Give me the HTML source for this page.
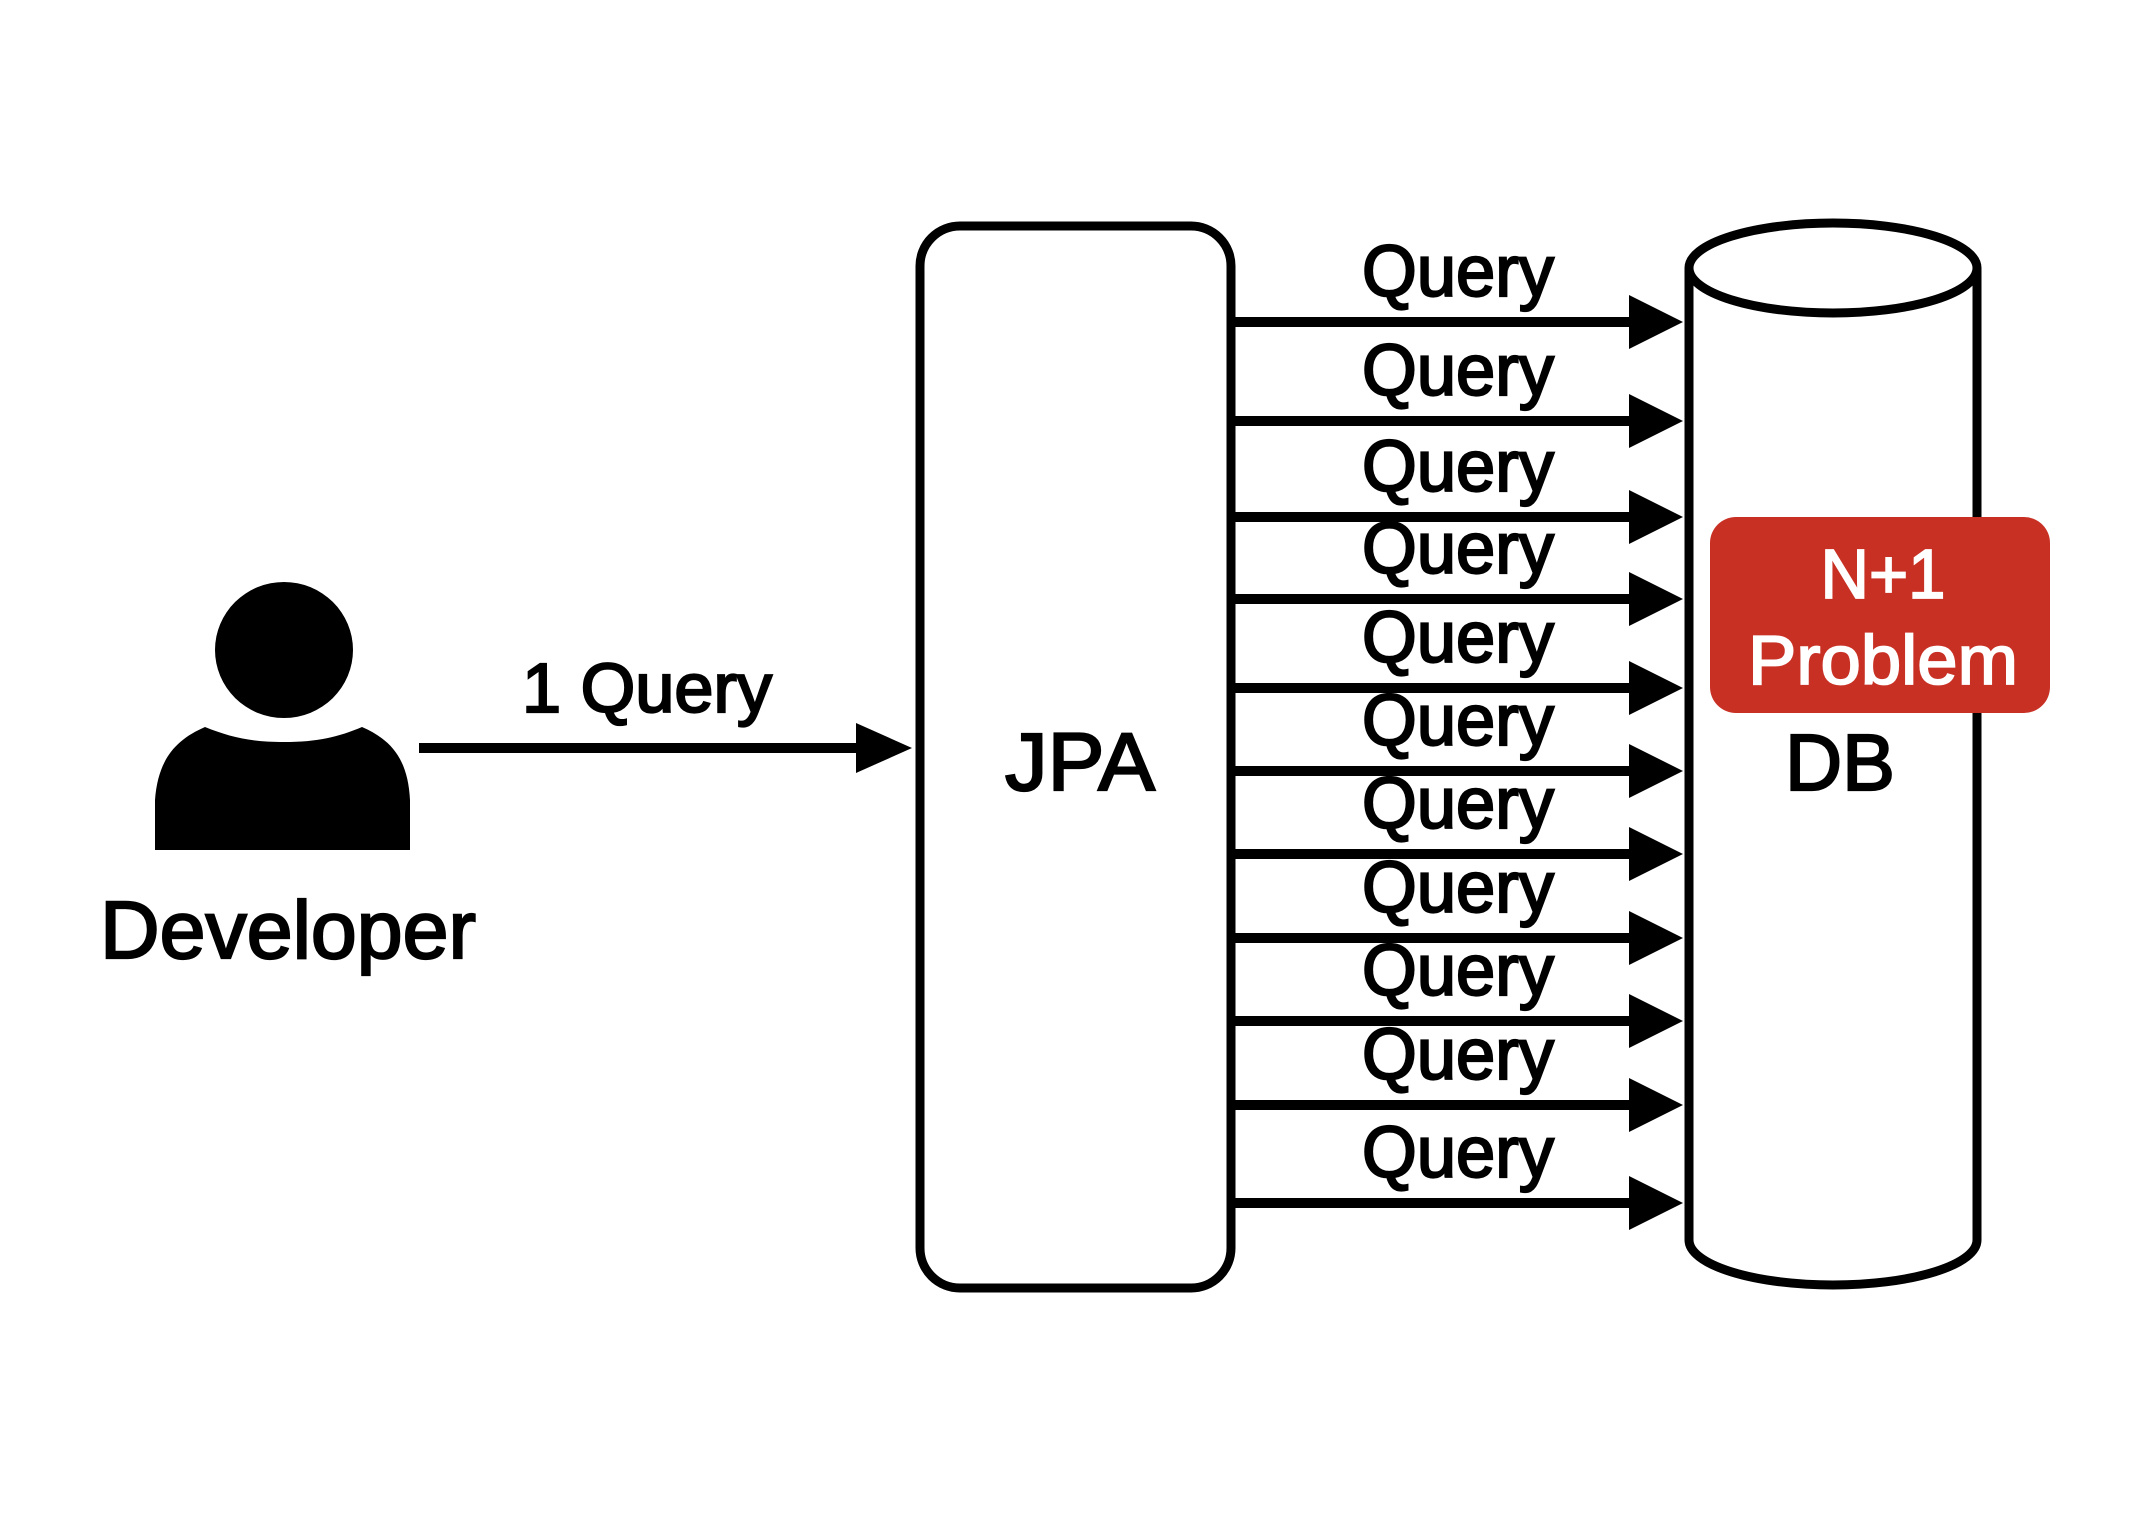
<!DOCTYPE html>
<html><head><meta charset="utf-8"><style>
html,body{margin:0;padding:0;background:#fff;}
svg{display:block;}
text{font-family:"Liberation Sans",Arial,sans-serif;}
.b{stroke:#000;stroke-width:2.2;}
.w{stroke:#fff;stroke-width:1.8;}
</style></head><body>
<svg width="2130" height="1524" viewBox="0 0 2130 1524" xmlns="http://www.w3.org/2000/svg">
<rect width="2130" height="1524" fill="#fff"/>
<!-- person -->
<ellipse cx="284" cy="650" rx="69" ry="68" fill="#000"/>
<path d="M155 850 L155 800 C158 760 175 740 205 727 C230 737 250 742 284 742 C318 742 338 737 362 727 C392 740 408 760 410 800 L410 850 Z" fill="#000"/>
<text class="b" x="288" y="958" font-size="82" text-anchor="middle" textLength="376" lengthAdjust="spacingAndGlyphs">Developer</text>
<!-- 1 query arrow -->
<line x1="419" y1="748" x2="862" y2="748" stroke="#000" stroke-width="10"/>
<polygon points="856,723 912,748 856,773" fill="#000"/>
<text class="b" x="647" y="712" font-size="70" text-anchor="middle" textLength="250" lengthAdjust="spacingAndGlyphs">1 Query</text>
<!-- JPA -->
<rect x="920" y="226" width="311" height="1062" rx="40" fill="#fff" stroke="#000" stroke-width="9"/>
<text class="b" x="1080" y="790" font-size="82" text-anchor="middle" textLength="150" lengthAdjust="spacingAndGlyphs">JPA</text>
<!-- cylinder -->
<path d="M1689 268 L1689 1240 A144 45 0 0 0 1977 1240 L1977 268" fill="#fff" stroke="#000" stroke-width="9"/>
<ellipse cx="1833" cy="268" rx="144" ry="45" fill="#fff" stroke="#000" stroke-width="9"/>
<text class="b" x="1840" y="790" font-size="80" text-anchor="middle" textLength="110" lengthAdjust="spacingAndGlyphs">DB</text>
<!-- arrows -->
<g stroke="#000" stroke-width="10">
<line x1="1231" y1="322" x2="1640" y2="322"/>
<line x1="1231" y1="421" x2="1640" y2="421"/>
<line x1="1231" y1="517" x2="1640" y2="517"/>
<line x1="1231" y1="599" x2="1640" y2="599"/>
<line x1="1231" y1="688" x2="1640" y2="688"/>
<line x1="1231" y1="771" x2="1640" y2="771"/>
<line x1="1231" y1="854" x2="1640" y2="854"/>
<line x1="1231" y1="938" x2="1640" y2="938"/>
<line x1="1231" y1="1021" x2="1640" y2="1021"/>
<line x1="1231" y1="1105" x2="1640" y2="1105"/>
<line x1="1231" y1="1203" x2="1640" y2="1203"/>
</g>
<g fill="#000">
<polygon points="1629,295 1683,322 1629,349"/>
<polygon points="1629,394 1683,421 1629,448"/>
<polygon points="1629,490 1683,517 1629,544"/>
<polygon points="1629,572 1683,599 1629,626"/>
<polygon points="1629,661 1683,688 1629,715"/>
<polygon points="1629,744 1683,771 1629,798"/>
<polygon points="1629,827 1683,854 1629,881"/>
<polygon points="1629,911 1683,938 1629,965"/>
<polygon points="1629,994 1683,1021 1629,1048"/>
<polygon points="1629,1078 1683,1105 1629,1132"/>
<polygon points="1629,1176 1683,1203 1629,1230"/>
</g>
<g class="b" font-size="72" text-anchor="middle">
<text x="1458" y="296" textLength="192" lengthAdjust="spacingAndGlyphs">Query</text>
<text x="1458" y="395" textLength="192" lengthAdjust="spacingAndGlyphs">Query</text>
<text x="1458" y="491" textLength="192" lengthAdjust="spacingAndGlyphs">Query</text>
<text x="1458" y="573" textLength="192" lengthAdjust="spacingAndGlyphs">Query</text>
<text x="1458" y="662" textLength="192" lengthAdjust="spacingAndGlyphs">Query</text>
<text x="1458" y="745" textLength="192" lengthAdjust="spacingAndGlyphs">Query</text>
<text x="1458" y="828" textLength="192" lengthAdjust="spacingAndGlyphs">Query</text>
<text x="1458" y="912" textLength="192" lengthAdjust="spacingAndGlyphs">Query</text>
<text x="1458" y="995" textLength="192" lengthAdjust="spacingAndGlyphs">Query</text>
<text x="1458" y="1079" textLength="192" lengthAdjust="spacingAndGlyphs">Query</text>
<text x="1458" y="1177" textLength="192" lengthAdjust="spacingAndGlyphs">Query</text>
</g>
<!-- N+1 badge -->
<rect x="1710" y="517" width="340" height="196" rx="26" fill="#c93024"/>
<g class="w" fill="#fff" font-size="70" text-anchor="middle">
<text x="1883" y="598" textLength="125" lengthAdjust="spacingAndGlyphs">N+1</text>
<text x="1883" y="684" textLength="270" lengthAdjust="spacingAndGlyphs">Problem</text>
</g>
</svg>
</body></html>
